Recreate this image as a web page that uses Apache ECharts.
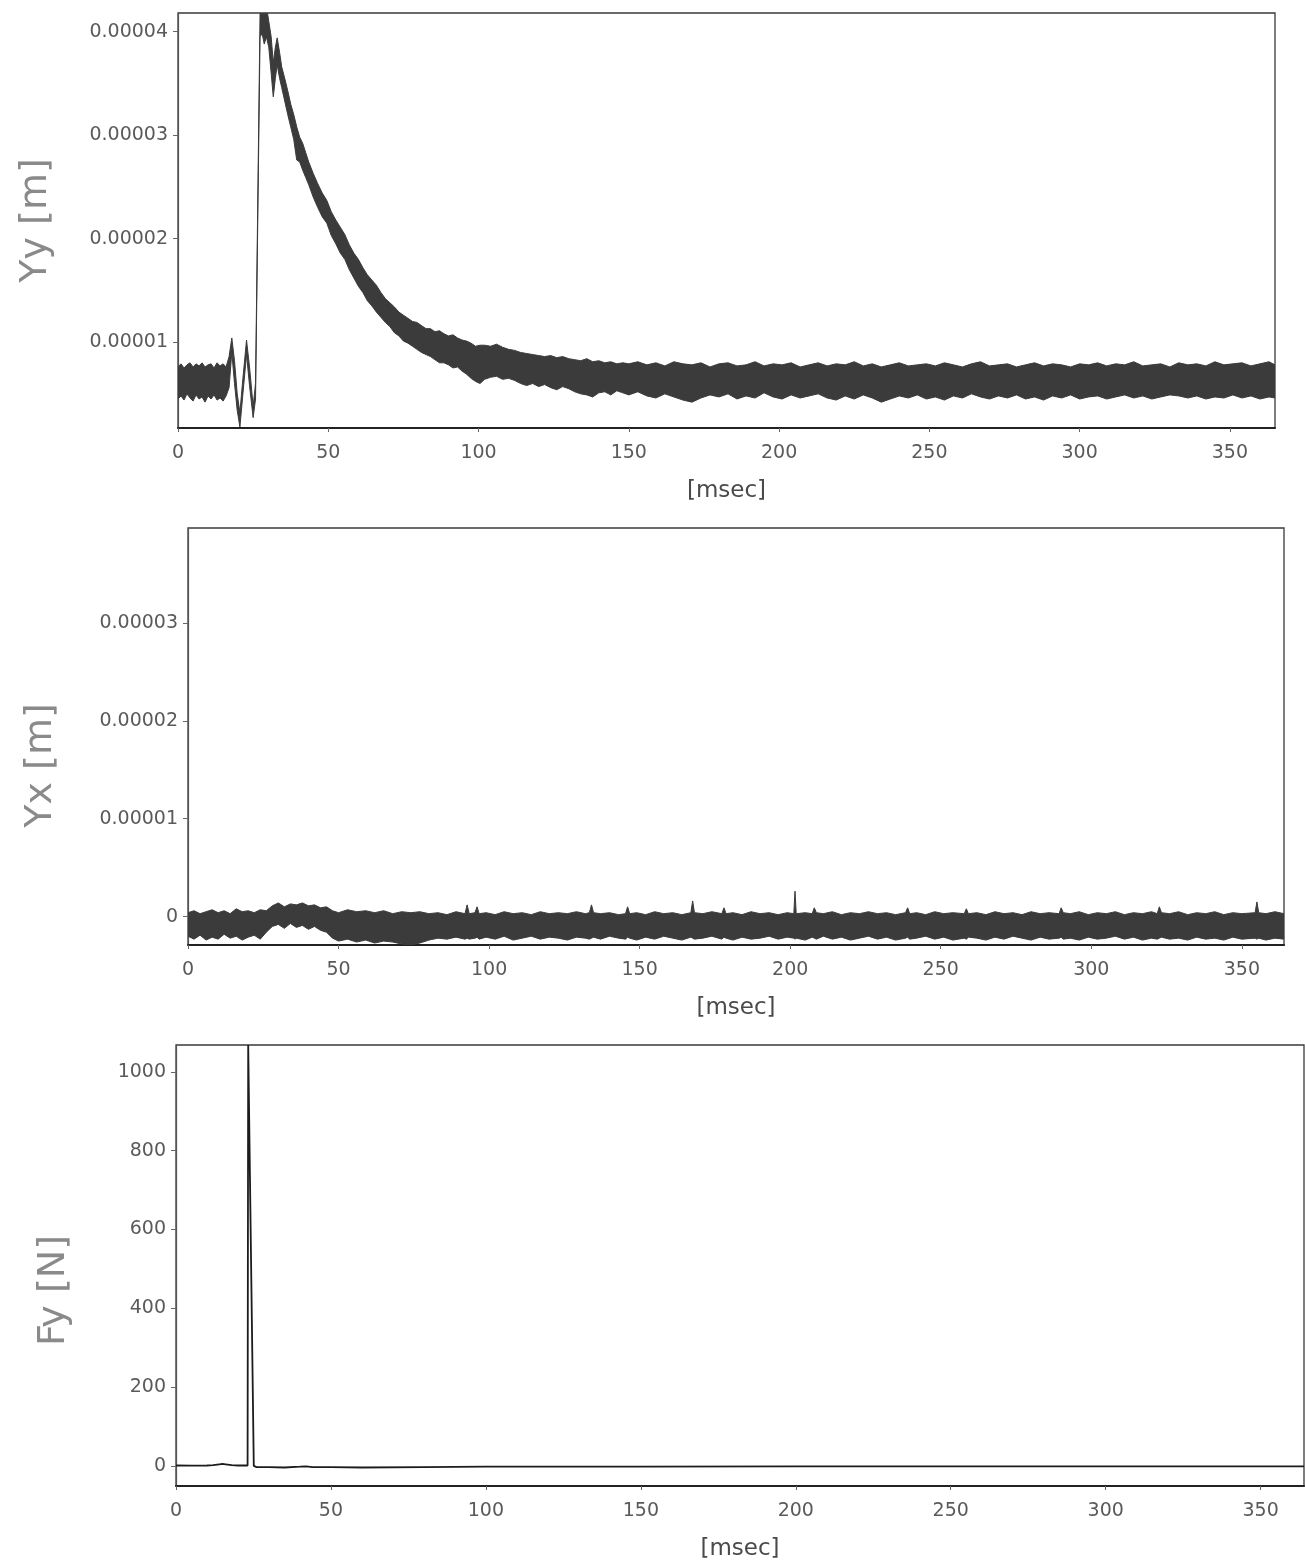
<!DOCTYPE html>
<html>
<head>
<meta charset="utf-8">
<script src="https://cdn.jsdelivr.net/npm/echarts@6/dist/echarts.min.js"></script>
<style>
  html, body { margin: 0; padding: 0; background: #ffffff; }
  #chart { width: 1305px; height: 1564px; }
</style>
</head>
<body>
<div id="chart"></div>
<script>
// Time axis ticks [msec]
const xTicks = [0, 50, 100, 150, 200, 250, 300, 350];
// Displacement ticks in micrometres (labelled in metres)
const yyTicks = [10, 20, 30, 40];
const yxTicks = [0, 10, 20, 30];
// Force ticks [N]
const fyTicks = [0, 200, 400, 600, 800, 1000];

// Yy displacement: noise band per time step [msec, low µm, high µm]
const yyBand = [
  [0, 4.5, 7.6], [1, 4.8, 7.9], [2, 4.4, 7.5], [3, 5.0, 7.8], [4, 4.6, 8.0],
  [5, 4.3, 7.6], [6, 4.9, 7.9], [7, 4.5, 7.7], [8, 4.7, 8.0], [9, 4.2, 7.6],
  [10, 4.8, 7.8], [11, 4.5, 7.9], [12, 4.9, 7.5], [13, 4.4, 8.0], [14, 4.6, 7.7],
  [15, 4.3, 7.9], [16, 4.8, 7.6], [17, 5.6, 8.6], [17.9, 9.0, 10.4], [18.8, 6.0, 8.2],
  [19.7, 3.4, 5.0], [20.6, 1.8, 3.2], [21.6, 5.0, 6.5], [22.8, 8.8, 10.2], [23.8, 5.8, 7.6],
  [25.0, 2.7, 3.8], [25.8, 4.5, 6.0], [27.3, 39.5, 41.8], [28, 39.8, 42.5], [28.7, 38.8, 41.5],
  [29.4, 39.5, 42.5], [30.2, 38.5, 41.0], [31, 36.0, 39.5], [31.7, 33.7, 37.0], [32.4, 35.5, 38.5],
  [33, 36.8, 39.4], [33.8, 35.5, 38.0], [34.5, 34.6, 36.6], [35.5, 33.3, 35.5], [36.5, 32.0, 34.3],
  [37.5, 30.8, 33.0], [38.5, 29.6, 32.0], [39.5, 27.6, 30.8], [40.5, 27.4, 29.8], [41.5, 26.6, 29.2],
  [42.5, 25.9, 28.3], [43.5, 25.2, 27.4], [45, 24.0, 26.3], [46.5, 23.0, 25.3], [48, 22.1, 24.4],
  [49.5, 21.5, 23.7], [51, 20.3, 22.6], [52.5, 19.5, 21.8], [54, 18.6, 21.1], [55.5, 18.0, 20.4],
  [57, 17.0, 19.4], [58.5, 16.2, 18.6], [60, 15.4, 18.0], [61.5, 14.8, 17.2], [63, 14.0, 16.5],
  [64.5, 13.5, 16.0], [66, 12.9, 15.5], [67.5, 12.4, 14.8], [69, 11.9, 14.2], [70.5, 11.5, 13.8],
  [72, 10.9, 13.4], [73.5, 10.6, 12.9], [75, 10.1, 12.6], [76.5, 9.9, 12.3], [78, 9.6, 12.0],
  [79.5, 9.3, 11.9], [81, 9.0, 11.6], [82.5, 8.8, 11.3], [84, 8.6, 11.3], [85.5, 8.3, 11.0],
  [87, 8.0, 11.1], [88.5, 8.0, 10.8], [90, 7.8, 10.6], [91.5, 7.5, 10.7], [93, 7.6, 10.4],
  [94.5, 7.2, 10.2], [96, 6.9, 10.1], [97.5, 6.5, 9.9], [99, 6.2, 9.6], [100.5, 6.0, 9.7],
  [102, 6.4, 9.7], [104, 6.6, 9.6], [106, 6.7, 9.8], [108, 6.4, 9.5], [110, 6.5, 9.3],
  [112, 6.3, 9.2], [114, 6.0, 9.0], [116, 5.8, 8.9], [118, 6.0, 8.8], [120, 5.7, 8.7],
  [122, 5.9, 8.6], [124, 5.6, 8.7], [126, 5.4, 8.5], [128, 5.7, 8.6], [130, 5.5, 8.4],
  [132, 5.2, 8.3], [134, 5.0, 8.2], [136, 4.9, 8.4], [138, 4.7, 8.1], [140, 5.1, 8.2],
  [142, 5.2, 8.0], [144, 4.9, 8.1], [146, 5.3, 7.9], [148, 5.1, 8.0], [150, 4.9, 7.9],
  [153, 5.2, 8.1], [156, 4.8, 7.8], [159, 4.6, 8.0], [162, 5.0, 7.7], [165, 4.7, 8.1],
  [168, 4.4, 7.9], [171, 4.2, 7.8], [174, 4.6, 8.0], [177, 4.9, 7.6], [180, 4.7, 7.9],
  [183, 5.0, 8.0], [186, 4.5, 7.7], [189, 4.8, 7.8], [192, 4.6, 8.1], [195, 5.1, 7.7],
  [198, 4.7, 7.9], [201, 4.5, 7.8], [204, 4.9, 8.0], [207, 4.6, 7.6], [210, 4.8, 7.8],
  [213, 5.0, 8.0], [216, 4.6, 7.7], [219, 4.4, 7.9], [222, 4.8, 7.8], [225, 4.5, 8.1],
  [228, 4.9, 7.7], [231, 4.6, 7.9], [234, 4.2, 7.6], [237, 4.5, 7.8], [240, 4.8, 8.0],
  [243, 4.6, 7.7], [246, 4.9, 7.8], [249, 4.5, 7.9], [252, 4.7, 7.7], [255, 4.4, 8.0],
  [258, 4.8, 7.8], [261, 4.6, 7.6], [264, 5.0, 7.9], [267, 4.7, 8.1], [270, 4.5, 7.7],
  [273, 4.8, 7.8], [276, 4.6, 7.9], [279, 4.9, 7.6], [282, 4.5, 7.8], [285, 4.7, 8.0],
  [288, 4.4, 7.7], [291, 4.8, 7.9], [294, 4.6, 7.8], [297, 4.9, 7.6], [300, 4.5, 7.9],
  [303, 4.7, 7.8], [306, 4.8, 8.0], [309, 4.5, 7.7], [312, 4.7, 7.9], [315, 4.9, 7.8],
  [318, 4.6, 8.1], [321, 4.8, 7.7], [324, 4.5, 7.8], [327, 4.7, 7.9], [330, 4.9, 7.6],
  [333, 4.8, 8.0], [336, 4.6, 7.8], [339, 4.8, 7.9], [342, 4.5, 7.7], [345, 4.7, 8.1],
  [348, 4.6, 7.8], [351, 4.9, 7.9], [354, 4.6, 8.0], [357, 4.8, 7.7], [360, 4.5, 7.9],
  [363, 4.7, 8.1], [365, 4.6, 7.8]
];

// Yx displacement: noise band [msec, low µm, high µm]
const yxBand = [
  [0, -2.0, 0.4], [2, -2.3, 0.6], [4, -1.9, 0.3], [6, -2.4, 0.5], [8, -2.1, 0.7],
  [10, -2.3, 0.4], [12, -1.8, 0.6], [14, -2.2, 0.3], [16, -2.0, 0.8], [18, -2.4, 0.5],
  [20, -2.1, 0.6], [22, -1.9, 0.4], [24, -2.3, 0.7], [26, -1.6, 0.6], [28, -1.0, 1.1],
  [30, -0.8, 1.4], [32, -1.2, 1.0], [34, -0.7, 1.3], [36, -1.1, 1.2], [38, -0.9, 1.4],
  [40, -1.3, 1.1], [42, -1.0, 1.2], [44, -1.4, 0.9], [46, -1.6, 1.0], [48, -2.2, 0.6],
  [50, -2.5, 0.4], [53, -2.3, 0.7], [56, -2.6, 0.5], [59, -2.4, 0.6], [62, -2.7, 0.4],
  [65, -2.5, 0.6], [68, -2.6, 0.3], [71, -2.8, 0.5], [74, -2.9, 0.4], [77, -2.7, 0.5],
  [80, -2.4, 0.3], [83, -2.2, 0.4], [86, -2.3, 0.2], [89, -2.1, 0.5], [92, -2.3, 0.3],
  [92.7, -2.2, 1.2], [93.4, -2.3, 0.3], [95.3, -2.2, 0.4], [96, -2.1, 1.0], [96.7, -2.3, 0.3],
  [99, -2.1, 0.4], [102, -2.3, 0.2], [105, -2.0, 0.5], [108, -2.4, 0.3], [111, -2.2, 0.4],
  [114, -2.0, 0.2], [117, -2.3, 0.5], [120, -2.1, 0.3], [123, -2.2, 0.4], [126, -2.4, 0.3],
  [129, -2.1, 0.5], [132, -2.2, 0.3], [133.3, -2.3, 0.4], [134, -2.2, 1.2], [134.7, -2.1, 0.4],
  [137, -2.3, 0.3], [140, -2.0, 0.4], [143, -2.2, 0.2], [145.3, -2.3, 0.3], [146, -2.1, 1.0],
  [146.7, -2.2, 0.3], [149, -2.4, 0.4], [152, -2.1, 0.2], [155, -2.3, 0.5], [158, -2.0, 0.3],
  [161, -2.2, 0.4], [164, -2.4, 0.2], [167, -2.1, 0.4], [167.6, -2.2, 1.6], [168.2, -2.3, 0.4],
  [171, -2.2, 0.3], [174, -2.0, 0.5], [177.3, -2.3, 0.3], [178, -2.1, 0.9], [178.7, -2.2, 0.3],
  [181, -2.4, 0.4], [184, -2.1, 0.2], [187, -2.3, 0.5], [190, -2.2, 0.3], [193, -2.0, 0.4],
  [196, -2.3, 0.2], [199, -2.1, 0.4], [201.2, -2.2, 0.3], [201.6, -2.3, 2.6], [202.0, -2.2, 0.3],
  [205, -2.4, 0.4], [207.3, -2.1, 0.3], [208, -2.2, 0.9], [208.7, -2.3, 0.4], [211, -2.0, 0.3],
  [214, -2.3, 0.5], [217, -2.1, 0.2], [220, -2.4, 0.4], [223, -2.2, 0.3], [226, -2.0, 0.5],
  [229, -2.3, 0.3], [232, -2.1, 0.4], [235, -2.4, 0.2], [238.3, -2.2, 0.4], [239, -2.1, 0.9],
  [239.7, -2.3, 0.3], [242, -2.2, 0.4], [245, -2.0, 0.2], [248, -2.3, 0.5], [251, -2.1, 0.3],
  [254, -2.4, 0.4], [257.8, -2.2, 0.3], [258.5, -2.3, 0.8], [259.2, -2.1, 0.3], [262, -2.2, 0.4],
  [265, -2.4, 0.2], [268, -2.1, 0.5], [271, -2.3, 0.3], [274, -2.0, 0.4], [277, -2.2, 0.2],
  [280, -2.4, 0.5], [283, -2.1, 0.3], [286, -2.3, 0.4], [289.3, -2.2, 0.3], [290, -2.1, 0.9],
  [290.7, -2.3, 0.4], [293, -2.2, 0.3], [296, -2.4, 0.5], [299, -2.1, 0.2], [302, -2.3, 0.4],
  [305, -2.2, 0.3], [308, -2.0, 0.5], [311, -2.3, 0.2], [314, -2.1, 0.4], [317, -2.4, 0.3],
  [320, -2.2, 0.5], [321.9, -2.3, 0.3], [322.6, -2.2, 1.0], [323.3, -2.1, 0.4], [326, -2.3, 0.3],
  [329, -2.2, 0.5], [332, -2.4, 0.2], [335, -2.1, 0.4], [338, -2.3, 0.3], [341, -2.2, 0.5],
  [344, -2.4, 0.2], [347, -2.1, 0.4], [350, -2.3, 0.3], [354.4, -2.2, 0.4], [355, -2.3, 1.5],
  [355.6, -2.2, 0.4], [358, -2.4, 0.3], [361, -2.2, 0.5], [364, -2.3, 0.3]
];

// Fy force trace [msec, N]
const fyTrace = [
  [0, 1], [5, 0.5], [10, 1], [12, 2], [14, 4], [15, 5], [16, 4], [18, 2], [20, 1],
  [23.1, 1], [23.3, 1068], [23.9, 1068], [25.1, 0], [26, -3], [30, -3], [35, -4],
  [40, -2], [42, -1], [44, -3], [50, -3], [60, -4], [80, -3], [100, -2], [150, -2],
  [200, -1], [250, -1], [300, -1], [364, -1]
];

const FONT = 'DejaVu Sans';
const TICK_COLOR = '#5a5a5a';
const BAND_COLOR = '#3b3b3b';

function metreLabel(v) {
  return v === 0 ? '0' : (v / 1e6).toFixed(5);
}

function plainLabel(v) {
  return String(v);
}

function xAxisFor(gridIndex, max) {
  return {
    type: 'value', gridIndex: gridIndex, min: 0, max: max,
    name: '[msec]', nameLocation: 'middle', nameGap: 52,
    nameTextStyle: { fontFamily: FONT, fontSize: 23, color: '#4a4a4a' },
    axisLine: { show: true, onZero: false, lineStyle: { color: '#222', width: 2 } },
    axisTick: { show: true, inside: false, length: 4, customValues: xTicks, lineStyle: { color: '#666' } },
    axisLabel: { customValues: xTicks, margin: 16, fontFamily: FONT, fontSize: 19, color: TICK_COLOR },
    splitLine: { show: false }
  };
}

function yAxisFor(gridIndex, min, max, ticks, name, gap, padRight, formatter) {
  return {
    type: 'value', gridIndex: gridIndex, min: min, max: max,
    name: name, nameLocation: 'middle', nameGap: gap, nameRotate: 90,
    nameTextStyle: { fontFamily: FONT, fontSize: 38, color: '#8a8a8a', padding: [0, padRight, 0, 0] },
    axisLine: { show: true, onZero: false, lineStyle: { color: '#555', width: 1.2 } },
    axisTick: { show: true, inside: false, length: 5, customValues: ticks, lineStyle: { color: '#666' } },
    axisLabel: { customValues: ticks, margin: 10, fontFamily: FONT, fontSize: 19, color: TICK_COLOR,
                 formatter: formatter },
    splitLine: { show: false }
  };
}

// Filled noise band between the low and high envelopes
function bandSeries(axisIndex, rows) {
  return {
    type: 'custom', xAxisIndex: axisIndex, yAxisIndex: axisIndex,
    clip: true, silent: true,
    data: [[rows[0][0], rows[0][1]]],
    renderItem: function (params, api) {
      const pts = [];
      for (let i = 0; i < rows.length; i++) pts.push(api.coord([rows[i][0], rows[i][2]]));
      for (let i = rows.length - 1; i >= 0; i--) pts.push(api.coord([rows[i][0], rows[i][1]]));
      return {
        type: 'polygon',
        shape: { points: pts },
        style: { fill: BAND_COLOR, stroke: BAND_COLOR, lineWidth: 1, lineJoin: 'miter' }
      };
    }
  };
}

const chart = echarts.init(document.getElementById('chart'), null, { renderer: 'canvas' });

const gridStyle = { show: true, borderColor: '#3a3a3a', borderWidth: 1.3, backgroundColor: 'transparent' };

chart.setOption({
  backgroundColor: '#ffffff',
  animation: false,
  grid: [
    Object.assign({ left: 178, top: 13, width: 1097, height: 415 }, gridStyle),
    Object.assign({ left: 188, top: 528, width: 1096, height: 417 }, gridStyle),
    Object.assign({ left: 176, top: 1045, width: 1128, height: 441 }, gridStyle)
  ],
  xAxis: [
    xAxisFor(0, 365),
    xAxisFor(1, 364),
    xAxisFor(2, 364)
  ],
  yAxis: [
    yAxisFor(0, 1.7, 41.8, yyTicks, 'Yy [m]', 123, 0, metreLabel),
    yAxisFor(1, -2.9, 39.7, yxTicks, 'Yx [m]', 128, 58, metreLabel),
    yAxisFor(2, -51, 1068, fyTicks, 'Fy [N]', 103, 50, plainLabel)
  ],
  series: [
    bandSeries(0, yyBand),
    bandSeries(1, yxBand),
    {
      type: 'line', xAxisIndex: 2, yAxisIndex: 2,
      data: fyTrace, showSymbol: false, clip: true, silent: true,
      lineStyle: { color: '#1c1c1c', width: 1.8 }
    }
  ]
});
</script>
</body>
</html>
